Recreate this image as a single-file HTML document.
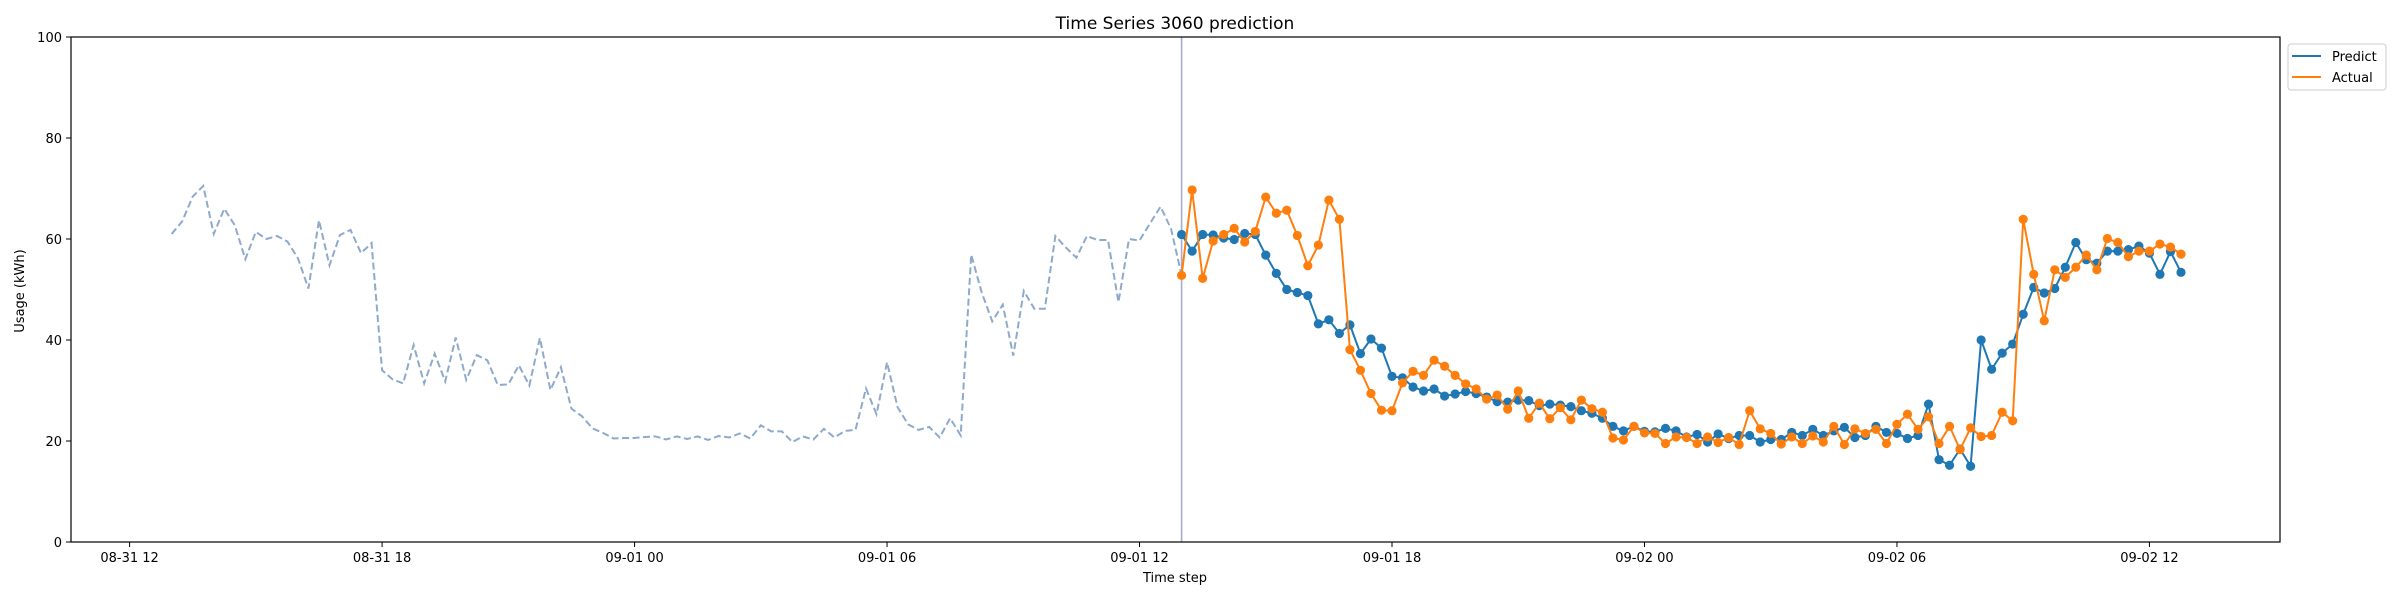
<!DOCTYPE html>
<html><head><meta charset="utf-8"><style>
html,body{margin:0;padding:0;background:#fff;}
svg{display:block;font-family:"DejaVu Sans","Liberation Sans",sans-serif;}
</style></head><body>
<svg id="chart" width="2400" height="600" viewBox="0 0 2400 600" xmlns="http://www.w3.org/2000/svg">
<rect x="0" y="0" width="2400" height="600" fill="#fff"/>
<text x="1175" y="29" font-size="17" text-anchor="middle">Time Series 3060 prediction</text>
<text x="0" y="0" font-size="13" text-anchor="middle" transform="translate(24,291) rotate(-90)">Usage (kWh)</text>
<text x="1175" y="582" font-size="13" text-anchor="middle">Time step</text>
<g id="marks"></g>
<rect x="71" y="37" width="2209" height="505" fill="none" stroke="#000" stroke-width="1.2"/>
<g>
<rect x="2288" y="44" width="98" height="46" rx="3" fill="#fff" stroke="#ccc"/>
<line x1="2292" y1="56" x2="2321" y2="56" stroke="#1f77b4" stroke-width="2"/>
<text x="2332" y="61" font-size="13">Predict</text>
<line x1="2292" y1="77" x2="2321" y2="77" stroke="#ff7f0e" stroke-width="2"/>
<text x="2332" y="82" font-size="13">Actual</text>
</g>
</svg>
<script>
const history = [61,63.5,68.4,70.5,61,66,62.7,56,61.4,60,60.6,59.5,56.2,50.2,63.7,54.8,60.8,61.8,57.2,59.2,34,32.2,31.4,39,31.4,37.3,31.8,40.5,32.1,37,36,31.1,31.2,35,31,40.4,30.1,34.6,26.4,24.9,22.5,21.6,20.5,20.6,20.6,20.8,20.9,20.3,20.9,20.4,20.9,20.2,21,20.7,21.5,20.5,23.1,21.9,21.9,19.8,20.9,20.3,22.4,20.7,22.0,22.2,30.4,25.3,35.6,26.7,23.3,22.2,22.8,20.7,24.5,21.1,56.9,49.4,43.7,47,36.9,49.7,46.2,46.2,60.6,58.3,56.3,60.6,59.8,59.8,47.5,60,59.7,63.1,66.4,62,52.8];
const predict = [60.9,57.6,60.9,60.8,60.2,59.9,61.1,60.9,56.8,53.2,50.0,49.4,48.8,43.2,44.0,41.3,43.0,37.3,40.2,38.4,32.8,32.5,30.7,29.9,30.3,28.9,29.3,29.8,29.4,28.7,27.8,27.7,28.1,28.0,27.0,27.3,27.1,26.8,26.0,25.5,24.5,22.9,22.0,22.9,21.9,21.8,22.5,22.0,20.8,21.3,19.8,21.4,20.5,21.1,21.1,19.8,20.3,20.3,21.7,21.1,22.3,21.1,22.0,22.7,20.7,21.1,22.9,21.7,21.5,20.5,21.1,27.3,16.3,15.2,18.4,15.0,40.0,34.2,37.4,39.2,45.1,50.4,49.3,50.2,54.4,59.3,55.9,55.2,57.6,57.6,57.9,58.6,57.2,53.0,57.5,53.4];
const actual = [52.8,69.7,52.2,59.6,60.9,62.1,59.4,61.5,68.3,65.1,65.7,60.7,54.7,58.8,67.7,63.9,38.1,34.0,29.4,26.1,26.0,31.5,33.8,33.0,36.0,34.8,33.0,31.3,30.3,28.3,29.1,26.3,29.9,24.5,27.5,24.4,26.6,24.2,28.1,26.4,25.7,20.6,20.2,22.9,21.6,21.5,19.5,20.8,20.7,19.5,20.8,19.7,20.7,19.3,26.0,22.4,21.5,19.4,20.8,19.5,21.0,19.8,22.9,19.3,22.4,21.5,22.3,19.5,23.3,25.3,22.3,24.8,19.5,22.9,18.3,22.6,20.9,21.1,25.7,24.0,63.9,53.0,43.8,53.9,52.4,54.4,56.8,53.9,60.1,59.3,56.5,57.6,57.6,59.0,58.4,57.0];
const xTickLabels = ["08-31 12","08-31 18","09-01 00","09-01 06","09-01 12","09-01 18","09-02 00","09-02 06","09-02 12"];
const yTickLabels = [0,20,40,60,80,100];
const historyStartHour = 1;      // hours after 08-31 12:00
const forecastStartHour = 25;    // hours after 08-31 12:00
const stepHours = 0.25;

const NS = "http://www.w3.org/2000/svg";
const X0 = 129.6, PX_PER_HOUR = 42.08;
const Y0 = 542, PX_PER_UNIT = 5.05;
function xScale(h){ return X0 + h * PX_PER_HOUR; }
function yScale(v){ return Y0 - v * PX_PER_UNIT; }
const svg = document.getElementById("chart");
const marks = document.getElementById("marks");
function mk(tag, attrs, parent){ const e=document.createElementNS(NS,tag); for(const k in attrs) e.setAttribute(k,attrs[k]); (parent||svg).appendChild(e); return e; }

// axes ticks
xTickLabels.forEach((lab,i)=>{
  const x = xScale(i*6);
  const t = mk("line",{x1:x,y1:542,x2:x,y2:547,stroke:"#000","stroke-width":1});
  
  
  const tx = mk("text",{x:x,y:562,"font-size":13,"text-anchor":"middle"});
  tx.textContent = lab;
  
  
});
yTickLabels.forEach(v=>{
  const y = yScale(v);
  const t = mk("line",{x1:66,y1:y,x2:71,y2:y,stroke:"#000","stroke-width":1});
  
  
  const tx = mk("text",{x:62,y:y+5,"font-size":13,"text-anchor":"end"});
  tx.textContent = v;
  
  
});

function pts(arr,start){ return arr.map((v,i)=>xScale(start+i*stepHours).toFixed(2)+","+yScale(v).toFixed(2)).join(" "); }

const hl = mk("polyline",{points:pts(history,historyStartHour),fill:"none",stroke:"#8eaacb","stroke-width":2,"stroke-dasharray":"7,3.5"},marks);



const vx = xScale(forecastStartHour);
const vl = mk("line",{x1:vx,y1:37,x2:vx,y2:542,stroke:"#a3aed2","stroke-width":1.6},marks);



function series(arr,color,name){
  const g = mk("g",{},marks);
  
  
  const l = mk("polyline",{points:pts(arr,forecastStartHour),fill:"none",stroke:color,"stroke-width":2},g);
  
  
  arr.forEach((v,i)=>{
    const c = mk("circle",{cx:xScale(forecastStartHour+i*stepHours),cy:yScale(v),r:4.6,fill:color},g);
    
    
  });
}
series(predict,"#1f77b4","predict");
series(actual,"#ff7f0e","actual");
</script>
</body></html>
